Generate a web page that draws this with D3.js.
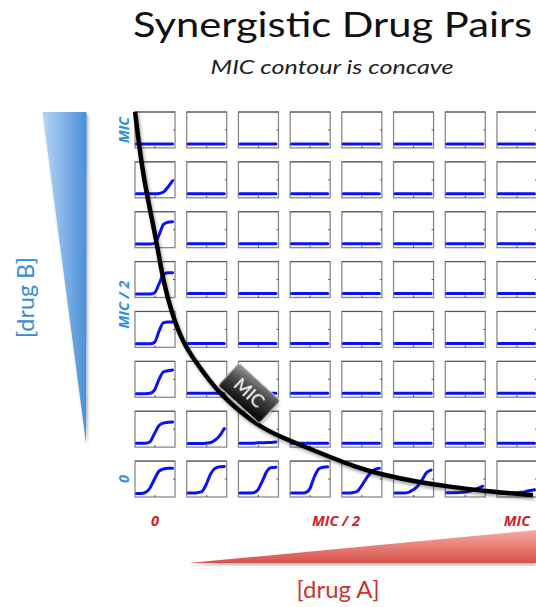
<!DOCTYPE html>
<html><head><meta charset="utf-8">
<script src="https://cdn.jsdelivr.net/npm/d3@7"></script>
<style>html,body{margin:0;padding:0;background:#fff;overflow:hidden}svg{display:block}</style>
</head><body><svg id="c" width="536" height="607"></svg>
<script>
// ---------------- DATA ----------------
const title = "Synergistic Drug Pairs";
const subtitle = "MIC contour is concave";
const xAxisTitle = "[drug A]";
const yAxisTitle = "[drug B]";
const tickValues = [0, 0.5, 1];
const tickLabels = ["0", "MIC / 2", "MIC"];
const nLevels = 8;                       // 8 concentrations of each drug
const contourLabel = "MIC";

// growth curve samples inside each mini plot (fraction of width / height)
const sampleX = [0, 0.125, 0.25, 0.375, 0.5, 0.625, 0.75, 0.875, 1];
const F = [0.11, 0.11, 0.11, 0.11, 0.11, 0.11, 0.11, 0.11, 0.11];   // no growth
// rows: top = drug B at MIC ... bottom = drug B 0 ; cols: drug A 0 ... MIC
const responses = [
  [F, F, F, F, F, F, F, F],
  [[0.11,0.11,0.11,0.11,0.11,0.12,0.16,0.30,0.47], F, F, F, F, F, F, F],
  [[0.10,0.10,0.10,0.10,0.12,0.35,0.65,0.71,0.72], F, F, F, F, F, F, F],
  [[0.10,0.10,0.10,0.10,0.13,0.38,0.64,0.69,0.69], F, F, F, F, F, F, F],
  [[0.10,0.10,0.10,0.10,0.14,0.45,0.69,0.71,0.71], F, F, F, F, F, F, F],
  [[0.10,0.10,0.10,0.11,0.20,0.50,0.71,0.74,0.76], F, F, F, F, F, F, F],
  [[0.11,0.11,0.11,0.15,0.38,0.60,0.67,0.69,0.70],
   [0.10,0.10,0.10,0.10,0.11,0.13,0.20,0.32,0.52],
   [0.11,0.11,0.11,0.11,0.12,0.12,0.13,0.13,0.14], F, F, F, F, F],
  [[0.10,0.10,0.13,0.25,0.50,0.72,0.78,0.80,0.80],
   [0.11,0.11,0.12,0.15,0.35,0.65,0.80,0.84,0.85],
   [0.11,0.11,0.11,0.12,0.20,0.45,0.72,0.82,0.83],
   [0.11,0.11,0.11,0.12,0.22,0.55,0.78,0.83,0.84],
   [0.11,0.11,0.12,0.15,0.30,0.50,0.66,0.77,0.80],
   [0.11,0.11,0.11,0.13,0.20,0.30,0.48,0.68,0.75],
   [0.12,0.12,0.12,0.13,0.14,0.16,0.20,0.25,0.30],
   [0.11,0.11,0.11,0.12,0.12,0.13,0.15,0.18,0.20]]
];

// MIC contour (drug A fraction of MIC, drug B fraction of MIC)
const contourA = [-0.055,-0.037,-0.014,0.005,0.022,0.046,0.075,0.108,0.170,0.207,0.281,0.345,0.437,0.553,0.630,0.723,0.815,0.906,1.044];
const contourB = [1.052,0.895,0.771,0.676,0.570,0.476,0.396,0.341,0.255,0.218,0.155,0.121,0.083,0.034,0.012,-0.008,-0.022,-0.034,-0.046];

// ---------------- DRAW ----------------
const svg = d3.select("#c");
const defs = svg.append("defs");

const gB = defs.append("linearGradient").attr("id","gradB").attr("x1","0").attr("x2","1").attr("y1","0").attr("y2","0");
gB.append("stop").attr("offset","0").attr("stop-color","#b6d6f6");
gB.append("stop").attr("offset","1").attr("stop-color","#4a8fd6");
const gA = defs.append("linearGradient").attr("id","gradA").attr("x1","0").attr("x2","0").attr("y1","0").attr("y2","1");
gA.append("stop").attr("offset","0").attr("stop-color","#f8aaa4");
gA.append("stop").attr("offset","1").attr("stop-color","#d6524b");
const gM = defs.append("linearGradient").attr("id","gradM").attr("x1","0").attr("x2","0.3").attr("y1","0").attr("y2","1");
gM.append("stop").attr("offset","0").attr("stop-color","#9a9a9a");
gM.append("stop").attr("offset","0.45").attr("stop-color","#4a4a4a");
gM.append("stop").attr("offset","1").attr("stop-color","#111");
const sh = defs.append("filter").attr("id","shadow").attr("x","-20%").attr("y","-20%").attr("width","140%").attr("height","140%");
sh.append("feDropShadow").attr("dx",1.5).attr("dy",2.5).attr("stdDeviation",1.8).attr("flood-color","#000").attr("flood-opacity",0.35);
const sh2 = defs.append("filter").attr("id","shadow2").attr("x","-20%").attr("y","-50%").attr("width","140%").attr("height","250%");
sh2.append("feDropShadow").attr("dx",0).attr("dy",2).attr("stdDeviation",1.5).attr("flood-color","#000").attr("flood-opacity",0.3);

const col = d3.scaleBand().domain(d3.range(nLevels)).range([135, 537]).paddingInner(0.226).paddingOuter(0);
const row = d3.scaleBand().domain(d3.range(nLevels)).range([112, 497]).paddingInner(0.28).paddingOuter(0);
const bw = col.bandwidth(), bh = row.bandwidth();
const xA = d3.scaleLinear().domain([0,1]).range([col(0)+bw/2, col(nLevels-1)+bw/2]);
const yB = d3.scaleLinear().domain([0,1]).range([row(nLevels-1)+bh/2, row(0)+bh/2]);

function fitText(sel, target){
  const fs = parseFloat(sel.attr("font-size"));
  const len = sel.node().getComputedTextLength();
  sel.attr("font-size", fs*target/len);
  return fs*target/len;
}

// title (height from font size, width stretched to match)
svg.append("text").attr("x",133).attr("y",37)
  .attr("font-family","Lato, 'Open Sans', sans-serif").attr("font-size",35).attr("fill","#111")
  .attr("textLength",399).attr("lengthAdjust","spacingAndGlyphs").text(title);
svg.append("text").attr("x",210.5).attr("y",74)
  .attr("font-family","Lato, 'Open Sans', sans-serif").attr("font-style","italic").attr("font-size",20).attr("fill","#222")
  .attr("textLength",243).attr("lengthAdjust","spacingAndGlyphs").text(subtitle);

// triangles
svg.append("path").attr("d", d3.line()([[42.5,112],[86.5,112],[86,443]]) + "Z").attr("fill","url(#gradB)").attr("filter","url(#shadow)");
svg.append("path").attr("d", d3.line()([[189,563],[536,530],[536,563]]) + "Z").attr("fill","url(#gradA)").attr("filter","url(#shadow2)");

// axis titles
const ta = svg.append("text").attr("x",338).attr("y",598).attr("text-anchor","middle")
  .attr("font-family","Lato, 'Open Sans', sans-serif").attr("font-size",20).attr("fill","#c9352e").text(xAxisTitle);
fitText(ta, 83);
const tb = svg.append("text").attr("transform","translate(34,297.5) rotate(-90)").attr("text-anchor","middle")
  .attr("font-family","Lato, 'Open Sans', sans-serif").attr("font-size",20).attr("fill","#3d8ad4").text(yAxisTitle);
fitText(tb, 81);

// cells
const mx = d3.scaleLinear().domain([0,1]).range([1.5, bw-2.5]);
const my = d3.scaleLinear().domain([0,1]).range([bh, 0]);
const miniLine = d3.line().x((d,i)=>mx(sampleX[i])).y(d=>my(d)).curve(d3.curveMonotoneX);

responses.forEach((r, ri) => {
  r.forEach((vals, ci) => {
    const g = svg.append("g").attr("transform", `translate(${col(ci)},${row(ri)})`);
    g.append("rect").attr("width",bw).attr("height",bh).attr("fill","#fff").attr("stroke","#8a8a8a").attr("stroke-width",1.3);
    g.append("line").attr("x1",0).attr("x2",bw).attr("y1",0).attr("y2",0).attr("stroke","#555").attr("stroke-width",1);
    g.append("line").attr("x1",bw/2).attr("x2",bw/2).attr("y1",bh).attr("y2",bh-2).attr("stroke","#555").attr("stroke-width",1);
    g.append("line").attr("x1",bw).attr("x2",bw-2).attr("y1",bh/2).attr("y2",bh/2).attr("stroke","#555").attr("stroke-width",1);
    g.append("path").attr("d", miniLine(vals)).attr("fill","none").attr("stroke","#0a12f5").attr("stroke-width",3).attr("stroke-linecap","round");
  });
});

// tick labels
const xt = svg.selectAll(".xt").data(tickValues).enter().append("text")
  .attr("x", d => xA(d)).attr("y", 526).attr("text-anchor","middle")
  .attr("font-family","'Open Sans', Lato, sans-serif").attr("font-weight","bold").attr("font-style","italic")
  .attr("font-size",11).attr("fill","#cc2229").text((d,i)=>tickLabels[i]);
const tfs = fitText(xt.filter((d,i)=>i===1), 48);
xt.attr("font-size", tfs);
svg.selectAll(".yt").data(tickValues).enter().append("text")
  .attr("transform", d => `translate(129,${yB(d)}) rotate(-90)`).attr("text-anchor","middle")
  .attr("font-family","'Open Sans', Lato, sans-serif").attr("font-weight","bold").attr("font-style","italic")
  .attr("font-size",tfs).attr("fill","#2f8fdc").text((d,i)=>tickLabels[i]);

// contour
const contour = contourA.map((a,i)=>[xA(a), yB(contourB[i])]);
svg.append("path").attr("d", d3.line().curve(d3.curveBasis)(contour))
  .attr("fill","none").attr("stroke","#000").attr("stroke-width",4.5).attr("filter","url(#shadow)");

// MIC label box
const lb = svg.append("g").attr("transform", `translate(${xA(0.26)},${yB(0.246)}) rotate(42.5)`).attr("filter","url(#shadow)");
lb.append("rect").attr("x",-28).attr("y",-15.5).attr("width",56).attr("height",31).attr("rx",2.5)
  .attr("fill","url(#gradM)").attr("stroke","#cfcfcf").attr("stroke-width",0.8);
lb.append("text").attr("text-anchor","middle").attr("dy","0.36em")
  .attr("font-family","Lato, 'Open Sans', sans-serif").attr("font-size",18).attr("fill","#fff").text(contourLabel);
</script>
</body></html>
